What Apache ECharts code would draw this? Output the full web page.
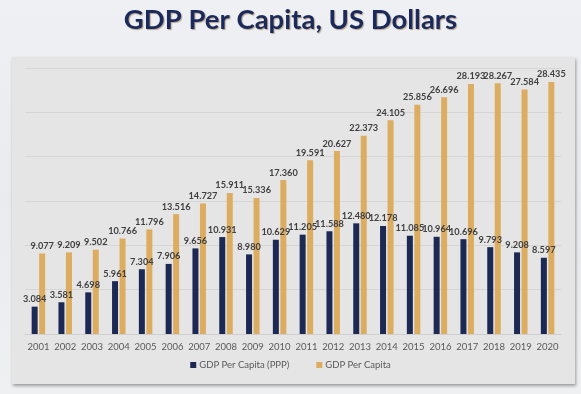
<!DOCTYPE html>
<html>
<head>
<meta charset="utf-8">
<script src="https://cdn.jsdelivr.net/npm/echarts@6/dist/echarts.min.js"></script>
<style>
html,body{margin:0;padding:0;}
body{background:linear-gradient(180deg,#eef0f3 0%,#e9ebee 50%,#eff0f2 100%);}
#c{width:581px;height:394px;}
</style>
</head>
<body>
<div id="c"></div>
<script>
const years = ['2001','2002','2003','2004','2005','2006','2007','2008','2009','2010','2011','2012','2013','2014','2015','2016','2017','2018','2019','2020'];
const gdpPPP = [3084,3581,4698,5961,7304,7906,9656,10931,8980,10629,11205,11588,12480,12178,11085,10964,10696,9793,9208,8597];
const gdpPerCapita = [9077,9209,9502,10766,11796,13516,14727,15911,15336,17360,19591,20627,22373,24105,25856,26696,28193,28267,27584,28435];
const seriesNames = ['GDP Per Capita (PPP)','GDP Per Capita'];
const titleText = 'GDP Per Capita, US Dollars';

const FONT = "Lato, sans-serif";
const fmt = v => (v.value / 1000).toFixed(3);
const labelStyle = {
  show: true, position: 'top', distance: 3,
  fontFamily: FONT, fontWeight: 'bold', fontSize: 9.2, color: '#404040',
  formatter: fmt
};

const chart = echarts.init(document.getElementById('c'), null, {renderer: 'canvas'});
chart.setOption({
  animation: false,
  backgroundColor: 'transparent',
  title: {
    text: titleText, left: 'center', top: 1,
    textStyle: {
      fontFamily: 'Lato', fontWeight: 'bold', fontSize: 27.5, color: '#1b2a5c',
      textShadowColor: 'rgba(120,70,20,0.45)', textShadowBlur: 1, textShadowOffsetX: 1, textShadowOffsetY: 1
    }
  },
  graphic: [{
    type: 'rect', z: -10, silent: true,
    shape: {x: 12, y: 57, width: 563, height: 327},
    style: {fill: '#e5e5e5', shadowColor: 'rgba(0,0,0,0.35)', shadowBlur: 3, shadowOffsetX: 1, shadowOffsetY: 2}
  }],
  legend: {
    data: seriesNames, top: 355, left: 'center',
    itemWidth: 6, itemHeight: 6, itemGap: 27, icon: 'rect',
    textStyle: {fontFamily: FONT, fontSize: 9.5, color: '#595959', padding: [0,0,0,-2]}
  },
  grid: {left: 25, right: 20, top: 68, bottom: 60, containLabel: false},
  xAxis: {
    type: 'category', data: years,
    axisLine: {lineStyle: {color: '#cfcfcf', width: 1}},
    axisTick: {show: false},
    axisLabel: {interval: 0, fontFamily: FONT, fontSize: 9.5, color: '#595959', margin: 8}
  },
  yAxis: {
    type: 'value', min: 0, max: 30000, interval: 5000,
    axisLabel: {show: false}, axisLine: {show: false}, axisTick: {show: false},
    splitLine: {lineStyle: {color: '#d5d5d5', width: 1}}
  },
  series: [
    {name: seriesNames[0], type: 'bar', data: gdpPPP, barWidth: 6, barGap: '25%',
     itemStyle: {color: '#1c2954'}, label: labelStyle},
    {name: seriesNames[1], type: 'bar', data: gdpPerCapita, barWidth: 6, barGap: '25%',
     itemStyle: {color: '#dcac60'}, label: labelStyle}
  ]
});
</script>
</body>
</html>
